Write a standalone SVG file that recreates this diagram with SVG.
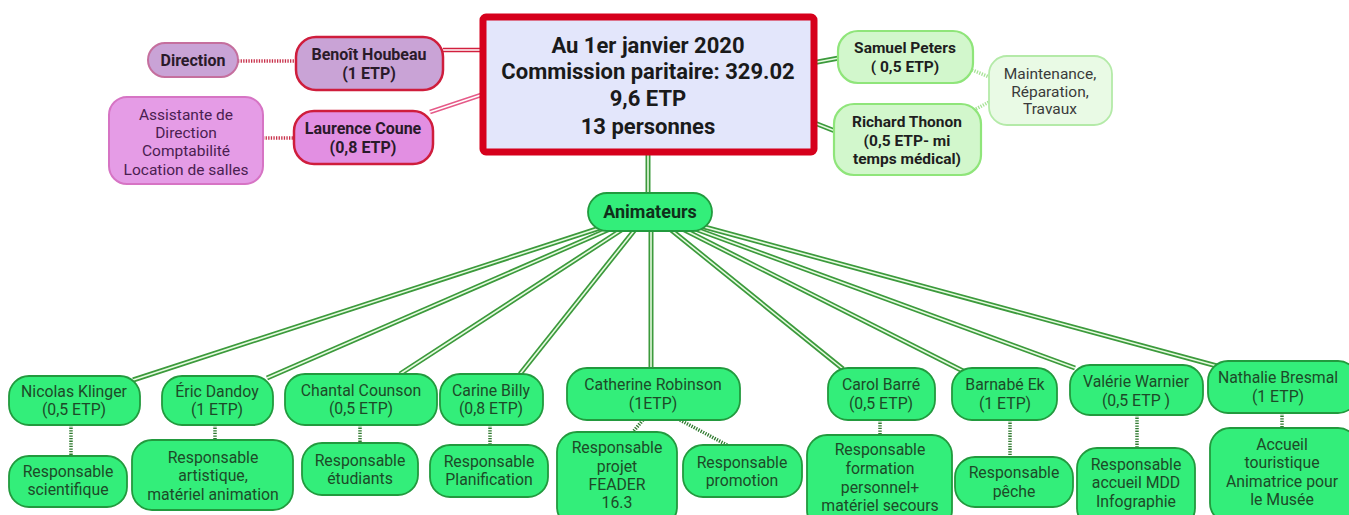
<svg xmlns="http://www.w3.org/2000/svg" width="1349" height="515" viewBox="0 0 1349 515">
<style>
text{font-family:Roboto,"Liberation Sans",sans-serif;text-anchor:middle}
.b{font-weight:bold}
.gout{stroke:#3c9a3c;stroke-width:5;fill:none}
.gin{stroke:#e6fbe0;stroke-width:1.6;fill:none}
.rout{stroke:#d2203e;stroke-width:4.5;fill:none}
.rin{stroke:#fff;stroke-width:1.5;fill:none}
.pout{stroke:#e55a88;stroke-width:4.5;fill:none}
.dotg{stroke:#2f7a2f;stroke-width:3.5;stroke-dasharray:1.3 1.3;fill:none}
.dotr{stroke:#c8304a;stroke-width:3.5;stroke-dasharray:1.3 1.3;fill:none}
.dotl{stroke:#a6e296;stroke-width:3.5;stroke-dasharray:1.3 1.3;fill:none}
.gn{fill:#33ee7a;stroke:#229a3e;stroke-width:1.8}
.gt{font-size:15.8px;fill:#1d4a28}
.ln{fill:#d2f7cc;stroke:#8fe57a;stroke-width:2.2}
.lt{font-size:15.5px;fill:#1e1e1e}
.pt{font-size:16px;fill:#2a1a2a}
</style>
<defs>
<path id="c1" d="M649,212 L133,380"/>
<path id="c2" d="M649,212 L267,378"/>
<path id="c3" d="M649,212 L400,374"/>
<path id="c4" d="M649,212 L520,374"/>
<path id="c5" d="M651,212 L651,368"/>
<path id="c6" d="M649,212 L843,369"/>
<path id="c7" d="M649,212 L963,371"/>
<path id="c8" d="M649,212 L1075,368"/>
<path id="c9" d="M649,212 L1217,366"/>
<path id="cA" d="M648,150 L648,195"/>
<path id="cS" d="M812,63 L839,58"/>
<path id="cR" d="M812,122 L835,131"/>
<path id="cB" d="M443,50 L484,50"/>
<path id="cL" d="M430,112 L484,94"/>
</defs>
<rect width="1349" height="515" fill="#fff"/>
<g id="connectors">
<use href="#c1" class="gout"/><use href="#c1" class="gin"/>
<use href="#c2" class="gout"/><use href="#c2" class="gin"/>
<use href="#c3" class="gout"/><use href="#c3" class="gin"/>
<use href="#c4" class="gout"/><use href="#c4" class="gin"/>
<use href="#c5" class="gout"/><use href="#c5" class="gin"/>
<use href="#c6" class="gout"/><use href="#c6" class="gin"/>
<use href="#c7" class="gout"/><use href="#c7" class="gin"/>
<use href="#c8" class="gout"/><use href="#c8" class="gin"/>
<use href="#c9" class="gout"/><use href="#c9" class="gin"/>
<use href="#cA" class="gout"/><use href="#cA" class="gin"/>
<use href="#cS" class="gout"/><use href="#cS" class="gin"/>
<use href="#cR" class="gout"/><use href="#cR" class="gin"/>
<use href="#cB" class="rout"/><use href="#cB" class="rin"/>
<use href="#cL" class="pout"/><use href="#cL" class="rin"/>
<path class="dotr" d="M238,61 L296,61"/>
<path class="dotr" d="M263,138 L294,138"/>
<path class="dotl" d="M972,70 L989,77"/>
<path class="dotl" d="M976,109 L989,102"/>
<path class="dotg" d="M71,425 L71,456"/>
<path class="dotg" d="M215,425 L215,440"/>
<path class="dotg" d="M360,425 L360,443"/>
<path class="dotg" d="M490,425 L490,445"/>
<path class="dotg" d="M643,420 L633,432"/>
<path class="dotg" d="M680,420 L727,445"/>
<path class="dotg" d="M880,420 L880,435"/>
<path class="dotg" d="M1010,420 L1010,457"/>
<path class="dotg" d="M1137,415 L1137,448"/>
<path class="dotg" d="M1282,413 L1282,428"/>
</g>
<g id="central">
<rect x="483" y="17" width="331" height="135" rx="3" fill="#e3e6fb" stroke="#d6001c" stroke-width="7"/>
<text class="b" font-size="22" fill="#1a1a1a"><tspan x="648" y="53">Au 1er janvier 2020</tspan><tspan x="648" y="79">Commission paritaire: 329.02</tspan><tspan x="648" y="106">9,6 ETP</tspan><tspan x="648" y="134">13 personnes</tspan></text>
</g>
<g id="direction">
<rect x="148" y="43" width="90" height="34" rx="17" fill="#c9a3d6" stroke="#c56f9e" stroke-width="2"/>
<text class="b pt" x="193" y="66">Direction</text>
</g>
<g id="benoit">
<rect x="296" y="37" width="147" height="53" rx="20" fill="#c9a3d6" stroke="#cf1d3c" stroke-width="2.5"/>
<text class="b pt"><tspan x="369" y="60">Benoît Houbeau</tspan><tspan x="369" y="79">(1 ETP)</tspan></text>
</g>
<g id="laurence">
<rect x="294" y="111" width="139" height="53" rx="20" fill="#e28fe2" stroke="#cf1d3c" stroke-width="2.5"/>
<text class="b pt"><tspan x="363" y="134">Laurence Coune</tspan><tspan x="363" y="153">(0,8 ETP)</tspan></text>
</g>
<g id="assistante">
<rect x="109" y="97" width="154" height="87" rx="18" fill="#e59ce6" stroke="#d674c4" stroke-width="2"/>
<text font-size="15.5" fill="#4a2050"><tspan x="186" y="120">Assistante de</tspan><tspan x="186" y="138">Direction</tspan><tspan x="186" y="156">Comptabilité</tspan><tspan x="186" y="175">Location de salles</tspan></text>
</g>
<g id="samuel">
<rect x="838" y="31" width="135" height="52" rx="20" class="ln"/>
<text class="b lt"><tspan x="905" y="53">Samuel Peters</tspan><tspan x="905" y="72">( 0,5 ETP)</tspan></text>
</g>
<g id="richard">
<rect x="834" y="104" width="147" height="71" rx="20" class="ln"/>
<text class="b lt"><tspan x="907" y="127">Richard Thonon</tspan><tspan x="907" y="146">(0,5 ETP- mi</tspan><tspan x="907" y="164">temps médical)</tspan></text>
</g>
<g id="maintenance">
<rect x="989" y="56" width="123" height="69" rx="18" fill="#e9fae5" stroke="#b4eaa8" stroke-width="1.8"/>
<text font-size="15.5" fill="#3a3a3a"><tspan x="1050" y="79">Maintenance,</tspan><tspan x="1050" y="97">Réparation,</tspan><tspan x="1050" y="114">Travaux</tspan></text>
</g>
<g id="animateurs">
<rect x="588" y="193" width="124" height="38" rx="19" class="gn" stroke-width="2.2"/>
<text class="b" font-size="18" fill="#10301a" x="650" y="218">Animateurs</text>
</g>
<g id="nicolas">
<rect x="9" y="376" width="131" height="49" rx="20" class="gn"/>
<text class="gt"><tspan x="74" y="397">Nicolas Klinger</tspan><tspan x="74" y="415">(0,5 ETP)</tspan></text>
</g>
<g id="nicolas-role">
<rect x="9" y="456" width="118" height="51" rx="20" class="gn"/>
<text class="gt"><tspan x="68" y="477">Responsable</tspan><tspan x="68" y="495">scientifique</tspan></text>
</g>
<g id="eric">
<rect x="162" y="376" width="111" height="49" rx="20" class="gn"/>
<text class="gt"><tspan x="217" y="397">Éric Dandoy</tspan><tspan x="217" y="415">(1 ETP)</tspan></text>
</g>
<g id="eric-role">
<rect x="132" y="440" width="161" height="70" rx="20" class="gn"/>
<text class="gt"><tspan x="213" y="463">Responsable</tspan><tspan x="213" y="481">artistique,</tspan><tspan x="213" y="500">matériel animation</tspan></text>
</g>
<g id="chantal">
<rect x="285" y="374" width="152" height="51" rx="20" class="gn"/>
<text class="gt"><tspan x="361" y="396">Chantal Counson</tspan><tspan x="361" y="414">(0,5 ETP)</tspan></text>
</g>
<g id="chantal-role">
<rect x="302" y="443" width="116" height="52" rx="20" class="gn"/>
<text class="gt"><tspan x="360" y="466">Responsable</tspan><tspan x="360" y="484">étudiants</tspan></text>
</g>
<g id="carine">
<rect x="440" y="374" width="103" height="51" rx="20" class="gn"/>
<text class="gt"><tspan x="491" y="396">Carine Billy</tspan><tspan x="491" y="414">(0,8 ETP)</tspan></text>
</g>
<g id="carine-role">
<rect x="430" y="445" width="118" height="52" rx="20" class="gn"/>
<text class="gt"><tspan x="489" y="467">Responsable</tspan><tspan x="489" y="485">Planification</tspan></text>
</g>
<g id="catherine">
<rect x="567" y="368" width="173" height="52" rx="20" class="gn"/>
<text class="gt"><tspan x="653" y="390">Catherine Robinson</tspan><tspan x="653" y="409">(1ETP)</tspan></text>
</g>
<g id="catherine-role1">
<rect x="557" y="432" width="120" height="95" rx="20" class="gn"/>
<text class="gt"><tspan x="617" y="453">Responsable</tspan><tspan x="617" y="472">projet</tspan><tspan x="617" y="490">FEADER</tspan><tspan x="617" y="508">16.3</tspan></text>
</g>
<g id="catherine-role2">
<rect x="683" y="445" width="119" height="52" rx="20" class="gn"/>
<text class="gt"><tspan x="742" y="468">Responsable</tspan><tspan x="742" y="486">promotion</tspan></text>
</g>
<g id="carol">
<rect x="828" y="368" width="107" height="52" rx="20" class="gn"/>
<text class="gt"><tspan x="881" y="390">Carol Barré</tspan><tspan x="881" y="409">(0,5 ETP)</tspan></text>
</g>
<g id="carol-role">
<rect x="807" y="435" width="145" height="95" rx="20" class="gn"/>
<text class="gt"><tspan x="880" y="455">Responsable</tspan><tspan x="880" y="474">formation</tspan><tspan x="880" y="493">personnel+</tspan><tspan x="880" y="511">matériel secours</tspan></text>
</g>
<g id="barnabe">
<rect x="952" y="368" width="105" height="52" rx="20" class="gn"/>
<text class="gt"><tspan x="1005" y="390">Barnabé Ek</tspan><tspan x="1005" y="409">(1 ETP)</tspan></text>
</g>
<g id="barnabe-role">
<rect x="955" y="457" width="118" height="50" rx="20" class="gn"/>
<text class="gt"><tspan x="1014" y="478">Responsable</tspan><tspan x="1014" y="497">pêche</tspan></text>
</g>
<g id="valerie">
<rect x="1070" y="365" width="133" height="50" rx="20" class="gn"/>
<text class="gt"><tspan x="1136" y="387">Valérie Warnier</tspan><tspan x="1136" y="406">(0,5 ETP )</tspan></text>
</g>
<g id="valerie-role">
<rect x="1077" y="448" width="118" height="80" rx="20" class="gn"/>
<text class="gt"><tspan x="1136" y="470">Responsable</tspan><tspan x="1136" y="488">accueil MDD</tspan><tspan x="1136" y="507">Infographie</tspan></text>
</g>
<g id="nathalie">
<rect x="1208" y="361" width="150" height="52" rx="20" class="gn"/>
<text class="gt"><tspan x="1278" y="383">Nathalie Bresmal</tspan><tspan x="1278" y="402">(1 ETP)</tspan></text>
</g>
<g id="nathalie-role">
<rect x="1210" y="428" width="148" height="95" rx="20" class="gn"/>
<text class="gt"><tspan x="1282" y="450">Accueil</tspan><tspan x="1282" y="468">touristique</tspan><tspan x="1282" y="487">Animatrice pour</tspan><tspan x="1282" y="505">le Musée</tspan></text>
</g>
</svg>
